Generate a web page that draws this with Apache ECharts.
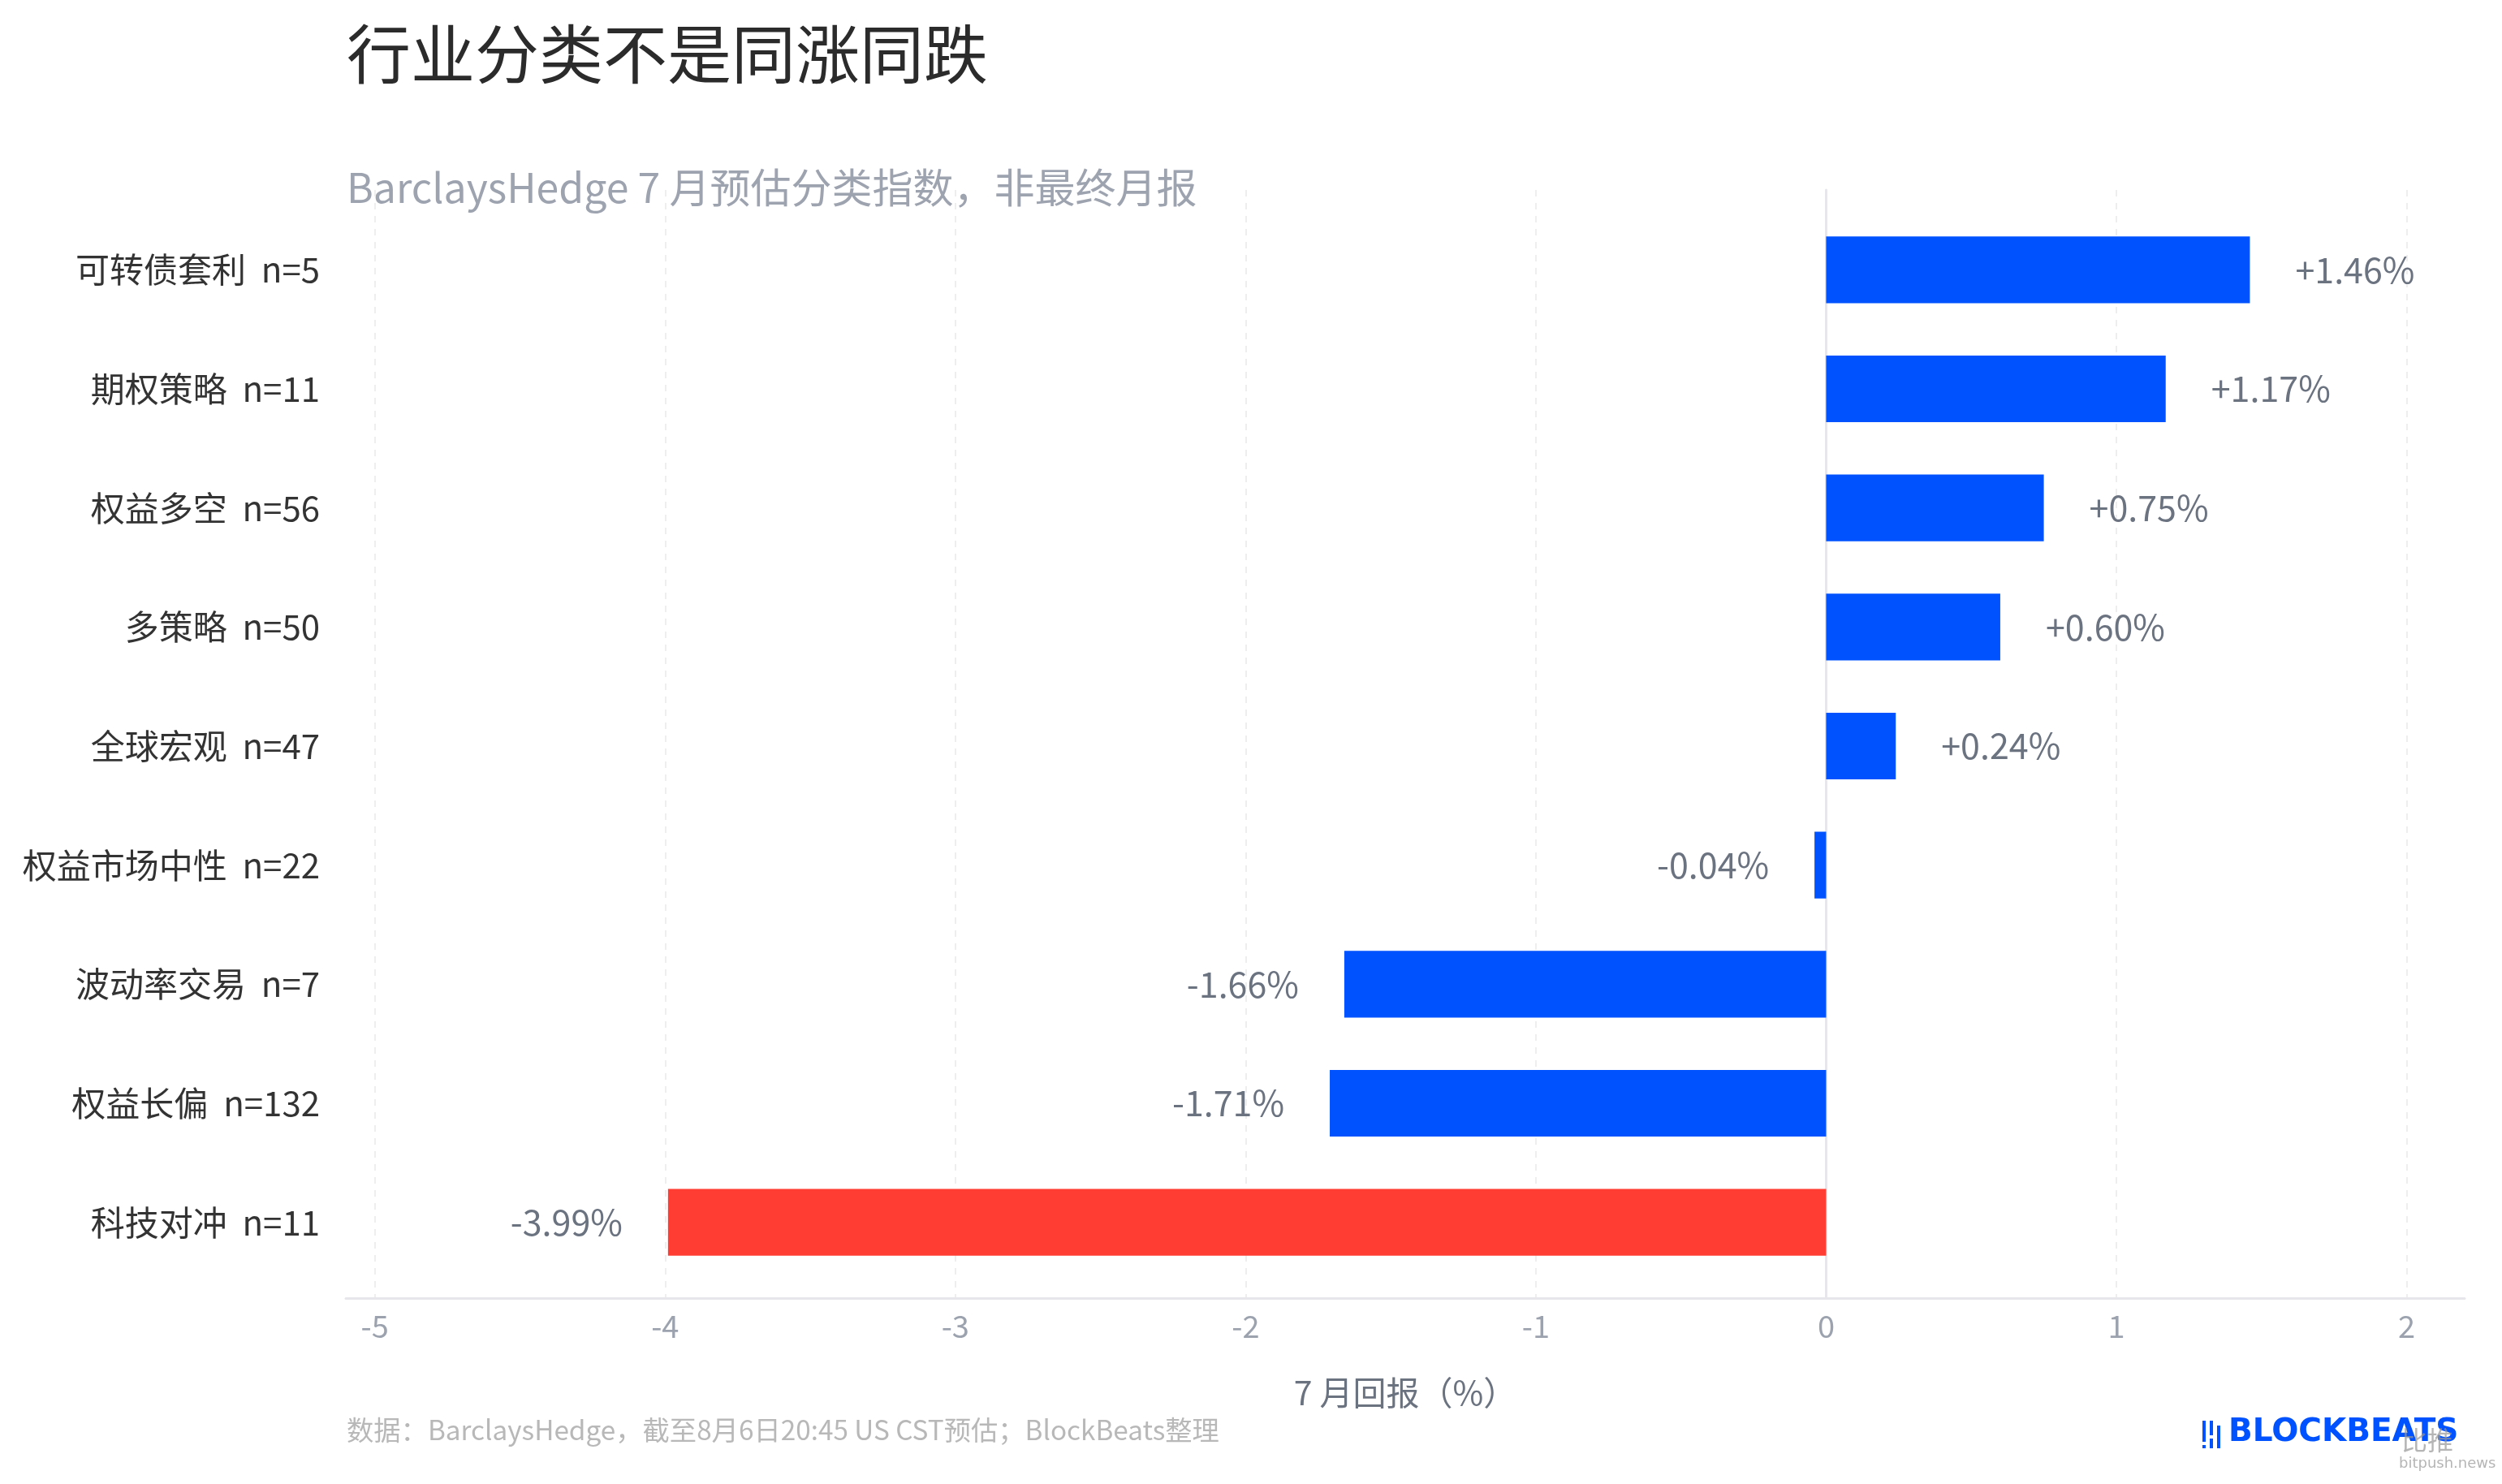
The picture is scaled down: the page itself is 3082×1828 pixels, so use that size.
<!DOCTYPE html>
<html>
<head>
<meta charset="utf-8">
<title>行业分类不是同涨同跌</title>
<script src="https://cdn.jsdelivr.net/npm/echarts@6/dist/echarts.min.js"></script>
<style>
  html, body { margin: 0; padding: 0; background: #fff; }
  #chart { width: 3082px; height: 1828px; }
</style>
</head>
<body>
<div id="chart"></div>
<script>
// 分类名称与样本数（从上到下）
const strategyNames = ['可转债套利', '期权策略', '权益多空', '多策略', '全球宏观', '权益市场中性', '波动率交易', '权益长偏', '科技对冲'];
const sampleCounts = [5, 11, 56, 50, 47, 22, 7, 132, 11];
// 7月回报（%）
const julyReturns = [1.46, 1.17, 0.75, 0.60, 0.24, -0.04, -1.66, -1.71, -3.99];

const FONT = '"Noto Sans CJK SC", "Noto Sans", sans-serif';
const BLUE = '#0052ff';
const RED = '#ff3d33';

const categoryLabels = strategyNames.map((n, i) => n + '  n=' + sampleCounts[i]);
const worst = Math.min(...julyReturns);

const barData = julyReturns.map(v => ({
    value: v,
    label: { position: v < 0 ? 'left' : 'right' }
}));

const chart = echarts.init(document.getElementById('chart'), null, { renderer: 'canvas' });

const axisGray = '#e6e6eb';

const option = {
    backgroundColor: '#ffffff',
    animation: false,
    textStyle: { fontFamily: FONT },
    grid: [
        { left: 426, right: 46, top: 259, bottom: 249 },   // 条形
        { left: 426, right: 46, top: 234, bottom: 229 }    // 坐标框
    ],
    xAxis: [
        { gridIndex: 0, type: 'value', min: -5.1, max: 2.2, show: false },
        {
            gridIndex: 1, type: 'value', min: -5.1, max: 2.2, splitNumber: 7,
            axisLine: { show: true, onZero: false, lineStyle: { color: axisGray, width: 3 } },
            axisTick: { show: false },
            axisLabel: {
                showMinLabel: false, showMaxLabel: false,
                margin: 16, fontSize: 38, color: '#9ca3af', fontFamily: FONT,
                formatter: v => Number.isInteger(v) ? String(v) : ''
            },
            splitLine: {
                show: true, showMinLine: false, showMaxLine: false,
                lineStyle: { color: '#eeeeee', width: 2, type: [8, 8] }
            },
            name: '7 月回报（%）',
            nameLocation: 'middle',
            nameGap: 96,
            nameTextStyle: { fontSize: 41, color: '#6b7280', fontFamily: FONT }
        }
    ],
    yAxis: [
        {
            gridIndex: 0, type: 'category', data: categoryLabels, inverse: true,
            axisLine: { show: false }, axisTick: { show: false },
            axisLabel: { margin: 32, fontSize: 42, color: '#333333', fontFamily: FONT }
        },
        {
            gridIndex: 1, type: 'value', min: 0, max: 1,
            axisLine: { show: true, onZero: true, lineStyle: { color: axisGray, width: 3 } },
            axisTick: { show: false }, axisLabel: { show: false }, splitLine: { show: false }
        }
    ],
    series: [{
        type: 'bar',
        xAxisIndex: 0,
        yAxisIndex: 0,
        data: barData,
        barWidth: '56%',
        itemStyle: {
            color: p => p.value === worst ? RED : BLUE
        },
        label: {
            show: true,
            distance: 56,
            fontSize: 43,
            color: '#6b7280',
            fontFamily: FONT,
            formatter: p => (p.value > 0 ? '+' : '') + p.value.toFixed(2) + '%'
        }
    }],
    graphic: [
        {
            type: 'text', left: 427, top: 27,
            style: { text: '行业分类不是同涨同跌', fontSize: 79, fill: '#2b2b2b', fontFamily: FONT }
        },
        {
            type: 'text', left: 427, top: 206,
            style: { text: 'BarclaysHedge 7 月预估分类指数，非最终月报', fontSize: 50, fill: '#9ea3b0', fontFamily: FONT }
        },
        {
            type: 'text', left: 427, top: 1745,
            style: { text: '数据：BarclaysHedge，截至8月6日20:45 US CST预估；BlockBeats整理', fontSize: 33.3, fill: '#b8b8b8', fontFamily: FONT }
        },
        // BlockBeats 标识
        { type: 'rect', shape: { x: 2713, y: 1750, width: 4, height: 26 }, style: { fill: BLUE } },
        { type: 'rect', shape: { x: 2722, y: 1750, width: 4, height: 18 }, style: { fill: BLUE } },
        { type: 'rect', shape: { x: 2731, y: 1756, width: 4, height: 28 }, style: { fill: BLUE } },
        { type: 'rect', shape: { x: 2713, y: 1780, width: 4, height: 4 }, style: { fill: BLUE } },
        { type: 'rect', shape: { x: 2722, y: 1772, width: 4, height: 12 }, style: { fill: BLUE } },
        {
            type: 'text', left: 2745, top: 1745,
            style: { text: 'BLOCKBEATS', fontSize: 39, fontWeight: 'bold', fill: BLUE, fontFamily: '"DejaVu Sans", sans-serif' }
        },
        {
            type: 'text', left: 2958, top: 1758,
            style: { text: '比推', fontSize: 32, fill: 'rgba(150,150,150,0.7)', fontFamily: FONT }
        },
        {
            type: 'text', left: 2955, top: 1794,
            style: { text: 'bitpush.news', fontSize: 18, fill: 'rgba(150,150,150,0.7)', fontFamily: '"DejaVu Sans", sans-serif' }
        }
    ]
};

chart.setOption(option);
</script>
</body>
</html>
